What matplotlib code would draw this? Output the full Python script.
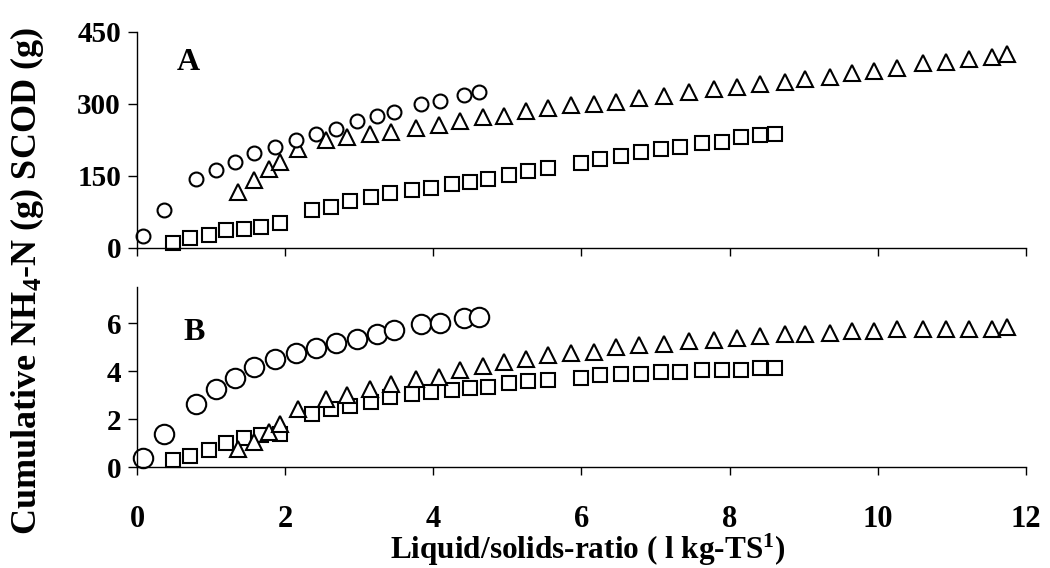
import matplotlib.pyplot as plt

plt.rcParams["font.family"] = ["Liberation Serif", "DejaVu Serif"]
plt.rcParams["font.weight"] = "bold"
plt.rcParams["mathtext.fontset"] = "custom"
plt.rcParams["mathtext.rm"] = "Liberation Serif:bold"
plt.rcParams["mathtext.bf"] = "Liberation Serif:bold"
plt.rcParams["mathtext.it"] = "Liberation Serif:bold"
plt.rcParams["mathtext.default"] = "rm"

# liquid/solids ratio for each of the three runs
circle_x = [0.08, 0.36, 0.80, 1.06, 1.32, 1.58, 1.86, 2.14, 2.42, 2.69, 2.97,
            3.24, 3.47, 3.83, 4.09, 4.41, 4.62]
square_x = [0.48, 0.72, 0.97, 1.20, 1.44, 1.67, 1.93, 2.36, 2.62, 2.88, 3.16,
            3.42, 3.71, 3.97, 4.25, 4.49, 4.74, 5.02, 5.28, 5.55, 5.99, 6.25,
            6.53, 6.81, 7.07, 7.33, 7.63, 7.90, 8.16, 8.41, 8.61]
triangle_x = [1.36, 1.58, 1.78, 1.93, 2.18, 2.55, 2.83, 3.15, 3.43, 3.76, 4.08,
              4.36, 4.67, 4.96, 5.25, 5.55, 5.86, 6.17, 6.47, 6.78, 7.12, 7.45,
              7.79, 8.10, 8.41, 8.75, 9.02, 9.35, 9.65, 9.95, 10.26, 10.61,
              10.92, 11.23, 11.54, 11.75]

# panel A: cumulative SCOD (g)
scod_circle = [25, 79, 144, 163, 179, 198, 210, 226, 237, 248, 265, 276, 284,
               299, 307, 318, 326]
scod_square = [11, 21, 28, 37, 40, 44, 52, 79, 86, 98, 106, 114, 121, 125, 134,
               137, 144, 153, 160, 167, 178, 185, 192, 199, 207, 211, 218, 221,
               231, 235, 237]
scod_triangle = [117, 142, 165, 180, 206, 224, 231, 238, 242, 251, 257, 265,
                 272, 276, 285, 292, 298, 301, 305, 312, 316, 324, 331, 335,
                 342, 345, 353, 357, 365, 369, 376, 385, 388, 393, 397, 404]

# panel B: cumulative NH4-N (g)
nh4_circle = [0.36, 1.37, 2.63, 3.26, 3.71, 4.18, 4.50, 4.73, 4.94, 5.16, 5.32,
              5.56, 5.71, 5.95, 6.01, 6.19, 6.26]
nh4_square = [0.29, 0.45, 0.70, 0.98, 1.21, 1.32, 1.39, 2.19, 2.43, 2.54, 2.70,
              2.91, 3.05, 3.12, 3.21, 3.30, 3.35, 3.49, 3.57, 3.63, 3.71, 3.85,
              3.88, 3.88, 3.97, 3.97, 4.04, 4.04, 4.04, 4.11, 4.11]
nh4_triangle = [0.73, 1.05, 1.46, 1.78, 2.40, 2.84, 2.98, 3.23, 3.46, 3.67,
                3.74, 4.05, 4.22, 4.36, 4.50, 4.65, 4.74, 4.81, 4.98, 5.07,
                5.14, 5.23, 5.30, 5.37, 5.46, 5.53, 5.53, 5.60, 5.67, 5.67,
                5.74, 5.74, 5.74, 5.74, 5.74, 5.83]

x_ticks = [0, 2, 4, 6, 8, 10, 12]

fig = plt.figure(figsize=(10.5, 5.68), dpi=100)
ax_a = fig.add_axes([0.1305, 0.5634, 0.8465, 0.3803])
ax_b = fig.add_axes([0.1305, 0.1778, 0.8465, 0.3169])

style = dict(linestyle="none", markerfacecolor="white", markeredgecolor="black",
             markeredgewidth=1.5)

ax_a.plot(square_x, scod_square, marker="s", markersize=9.5, **style)
ax_a.plot(triangle_x, scod_triangle, marker="^", markersize=11, **style)
ax_a.plot(circle_x, scod_circle, marker="o", markersize=10, **style)

ax_b.plot(square_x, nh4_square, marker="s", markersize=9.5, **style)
ax_b.plot(triangle_x, nh4_triangle, marker="^", markersize=11, **style)
ax_b.plot(circle_x, nh4_circle, marker="o", markersize=14, **style)

ax_a.set_ylim(0, 450)
ax_a.set_yticks([0, 150, 300, 450])
ax_b.set_ylim(0, 7.5)
ax_b.set_yticks([0, 2, 4, 6])

for ax in (ax_a, ax_b):
    ax.set_xlim(0, 12)
    ax.set_xticks(x_ticks)
    ax.spines["top"].set_visible(False)
    ax.spines["right"].set_visible(False)
    ax.spines["left"].set_linewidth(1.0)
    ax.spines["bottom"].set_linewidth(1.0)
    ax.tick_params(axis="y", direction="out", length=6.5, width=1.0,
                   labelsize=21, pad=5)
    ax.tick_params(axis="x", direction="out", length=5.5, width=1.0,
                   labelsize=22, pad=22)
    for line in ax.lines:
        line.set_clip_on(False)

ax_a.tick_params(axis="x", labelbottom=False)

ax_a.text(0.69, 387, "A", fontsize=23, fontweight="bold", ha="center", va="center")
ax_b.text(0.77, 5.6, "B", fontsize=23, fontweight="bold", ha="center", va="center")

fig.text(0.026, 0.505, r"Cumulative NH$_{4}$-N (g) SCOD (g)", rotation=90,
         fontsize=26, fontweight="bold", ha="center", va="center")
fig.text(0.560, 0.016, r"Liquid/solids-ratio ( l kg-TS$^{1}$)",
         fontsize=22.5, fontweight="bold", ha="center", va="baseline")

fig.savefig("out.png", dpi=100)
